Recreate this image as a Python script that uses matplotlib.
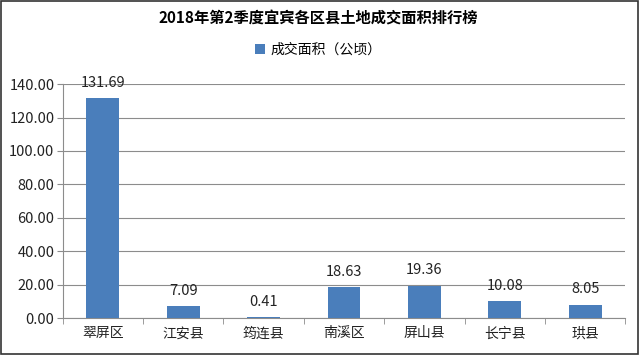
import matplotlib
matplotlib.use('Agg')
import matplotlib.pyplot as plt
from matplotlib.patches import Rectangle

plt.rcParams['font.family'] = ['Noto Sans CJK SC', 'DejaVu Sans']

# data
districts = ['翠屏区', '江安县', '筠连县', '南溪区', '屏山县', '长宁县', '珙县']
area = [131.69, 7.09, 0.41, 18.63, 19.36, 10.08, 8.05]
yticks = [0, 20, 40, 60, 80, 100, 120, 140]

bar_color = '#4a7ebb'
grid_color = '#8c8c8c'

fig = plt.figure(figsize=(6.4, 3.55), dpi=100)
ax = fig.add_axes([0.098, 0.104, 0.879, 0.659])

x = list(range(len(districts)))
ax.bar(x, area, width=0.41, color=bar_color, zorder=3, label='成交面积（公顷）')
for xi, v in zip(x, area):
    ax.text(xi, v + 5, f'{v:.2f}', ha='center', va='bottom', fontsize=10.5, color='#222222', zorder=4)

ax.set_xlim(-0.5, len(districts) - 0.5)
ax.set_ylim(0, 140)
ax.set_yticks(yticks)
ax.set_yticklabels([f'{t:.2f}' for t in yticks], fontsize=10.5, color='#222222')
ax.set_xticks(x)
ax.set_xticklabels(districts, fontsize=10, color='#222222')
ax.tick_params(axis='x', length=0, pad=6)
ax.tick_params(axis='y', length=4, color=grid_color, pad=2)
# category separators
ax.set_xticks([i - 0.5 for i in range(len(districts) + 1)], minor=True)
ax.tick_params(axis='x', which='minor', length=4, color=grid_color)

ax.grid(axis='y', color=grid_color, linewidth=0.8, zorder=0)
for s in ['top', 'right']:
    ax.spines[s].set_visible(False)
ax.spines['left'].set_color(grid_color)
ax.spines['bottom'].set_color(grid_color)

fig.text(0.497, 0.949, '2018年第2季度宜宾各区县土地成交面积排行榜', ha='center', va='center',
         fontsize=11, fontweight='bold')
fig.legend(loc='center', bbox_to_anchor=(0.497, 0.859), frameon=False, fontsize=10,
           handlelength=0.7, handleheight=0.7, handletextpad=0.4)

fig.patches.append(Rectangle((0.002, 0.003), 0.995, 0.994, transform=fig.transFigure,
                             fill=False, edgecolor='#333333', linewidth=1.2))

fig.savefig('out.png', dpi=100)
